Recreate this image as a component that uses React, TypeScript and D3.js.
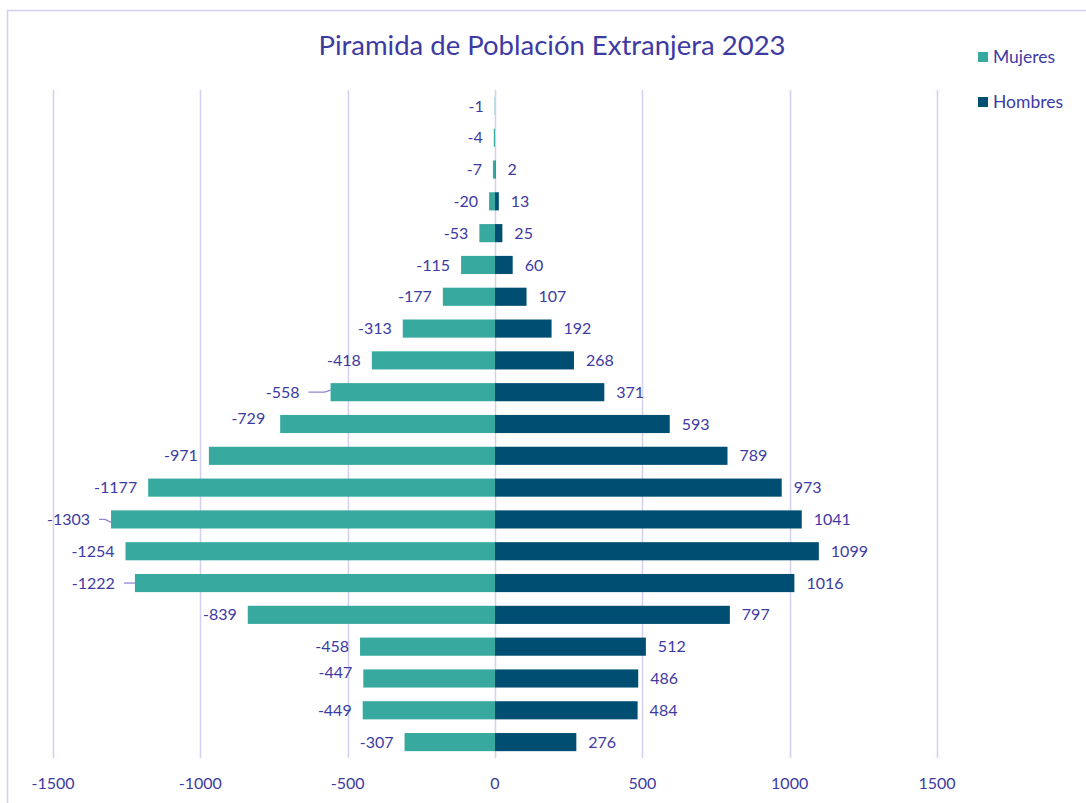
import { useEffect, useRef } from 'react';
import * as d3 from 'd3';

// rows from top (oldest) to bottom (youngest)
const mujeres = [-1, -4, -7, -20, -53, -115, -177, -313, -418, -558, -729, -971, -1177, -1303, -1254, -1222, -839, -458, -447, -449, -307];
const hombres: (number | null)[] = [null, null, 2, 13, 25, 60, 107, 192, 268, 371, 593, 789, 973, 1041, 1099, 1016, 797, 512, 486, 484, 276];
const xTicks = [-1500, -1000, -500, 0, 500, 1000, 1500];
const series = ['Mujeres', 'Hombres'];

// manual nudges of some women's labels (like dragged labels in the original)
const labelNudges: Record<number, { dx: number; dy: number; leader?: string }> = {
    9: { dx: -20, dy: 0, leader: 'up' },
    10: { dx: -4, dy: -6 },
    13: { dx: -10, dy: 0, leader: 'down' },
    15: { dx: -9, dy: 0, leader: 'flat' },
    18: { dx: 0, dy: -6 },
};

const TEXT = '#3d3aa3';
const FEM = '#37a99f';
const MAS = '#004f72';
const GRID = '#d3d0ef';
const FONT = 'Lato, "Open Sans", sans-serif';

const App = () => {
    const svgRef = useRef<SVGSVGElement | null>(null);

    useEffect(() => {
        if (!svgRef.current) return;
        const svg = d3.select(svgRef.current);
        svg.selectAll('*').remove();

        const W = 1086;
        const H = 803;

        // Outer border
        svg.append('rect')
            .attr('x', 7.5)
            .attr('y', 10.5)
            .attr('width', W + 10)
            .attr('height', H + 10)
            .attr('fill', '#fff')
            .attr('stroke', GRID)
            .attr('stroke-width', 1.5);

        const xScale = d3.scaleLinear().domain([-1500, 1500]).range([53, 937]);
        const idx = d3.range(mujeres.length);
        const yScale = d3.scaleBand<number>().domain(idx).range([90, 758]).paddingInner(0.43).paddingOuter(0.215);

        // Gridlines
        svg.append('g')
            .selectAll('line')
            .data(xTicks)
            .enter()
            .append('line')
            .attr('x1', d => Math.round(xScale(d)) + 0.5)
            .attr('x2', d => Math.round(xScale(d)) + 0.5)
            .attr('y1', 90)
            .attr('y2', 758)
            .attr('stroke', GRID)
            .attr('stroke-width', 1.5);

        // Tick labels
        svg.append('g')
            .selectAll('text')
            .data(xTicks)
            .enter()
            .append('text')
            .attr('x', d => xScale(d))
            .attr('y', 789)
            .attr('text-anchor', 'middle')
            .attr('fill', TEXT)
            .attr('font-family', FONT)
            .attr('font-size', '16px')
            .text(d => d);

        // Bars
        svg.append('g')
            .selectAll('rect')
            .data(idx)
            .enter()
            .append('rect')
            .attr('x', i => xScale(mujeres[i]))
            .attr('y', i => yScale(i)!)
            .attr('width', i => xScale(0) - xScale(mujeres[i]))
            .attr('height', yScale.bandwidth())
            .attr('fill', FEM);

        svg.append('g')
            .selectAll('rect')
            .data(idx.filter(i => hombres[i] !== null))
            .enter()
            .append('rect')
            .attr('x', xScale(0))
            .attr('y', i => yScale(i)!)
            .attr('width', i => xScale(hombres[i] as number) - xScale(0))
            .attr('height', yScale.bandwidth())
            .attr('fill', MAS);

        const cy = (i: number) => yScale(i)! + yScale.bandwidth() / 2;

        // Women labels
        const fl = svg.append('g');
        idx.forEach(i => {
            const n = labelNudges[i] || { dx: 0, dy: 0 };
            const end = xScale(mujeres[i]);
            const lx = end - 11 + n.dx;
            const ly = cy(i) + n.dy;
            if (n.leader) {
                const bend = n.leader === 'up' ? -2 : n.leader === 'down' ? 3 : 0;
                fl.append('path')
                    .attr('d', `M${lx + 9},${ly} L${end - 6},${ly} L${end},${ly + bend}`)
                    .attr('fill', 'none')
                    .attr('stroke', '#8f86d6')
                    .attr('stroke-width', 1.3);
            }
            fl.append('text')
                .attr('x', lx)
                .attr('y', ly)
                .attr('dy', '0.35em')
                .attr('text-anchor', 'end')
                .attr('fill', TEXT)
                .attr('font-family', FONT)
                .attr('font-size', '16px')
                .text(mujeres[i]);
        });

        // Men labels
        svg.append('g')
            .selectAll('text')
            .data(idx.filter(i => hombres[i] !== null))
            .enter()
            .append('text')
            .attr('x', i => xScale(hombres[i] as number) + 12)
            .attr('y', i => cy(i))
            .attr('dy', '0.35em')
            .attr('fill', TEXT)
            .attr('font-family', FONT)
            .attr('font-size', '16px')
            .text(i => hombres[i] as number);

        // Title
        svg.append('text')
            .attr('x', 552)
            .attr('y', 55)
            .attr('text-anchor', 'middle')
            .attr('fill', TEXT)
            .attr('font-family', FONT)
            .attr('font-size', '27.5px')
            .text('Piramida de Población Extranjera 2023');

        // Legend
        const legend = svg.append('g');
        series.forEach((s, k) => {
            const y = 57 + k * 45;
            legend.append('rect')
                .attr('x', 978)
                .attr('y', y - 5)
                .attr('width', 10)
                .attr('height', 10)
                .attr('fill', k === 0 ? FEM : MAS);
            legend.append('text')
                .attr('x', 993)
                .attr('y', y)
                .attr('dy', '0.35em')
                .attr('fill', TEXT)
                .attr('font-family', FONT)
                .attr('font-size', '17.5px')
                .text(s);
        });
    }, []);

    return (
        <div style={{ position: 'absolute', left: 0, top: 0, width: 1086, height: 803, overflow: 'hidden' }}>
            <svg ref={svgRef} width={1086} height={803} style={{ display: 'block' }}></svg>
        </div>
    );
};

export default App;
